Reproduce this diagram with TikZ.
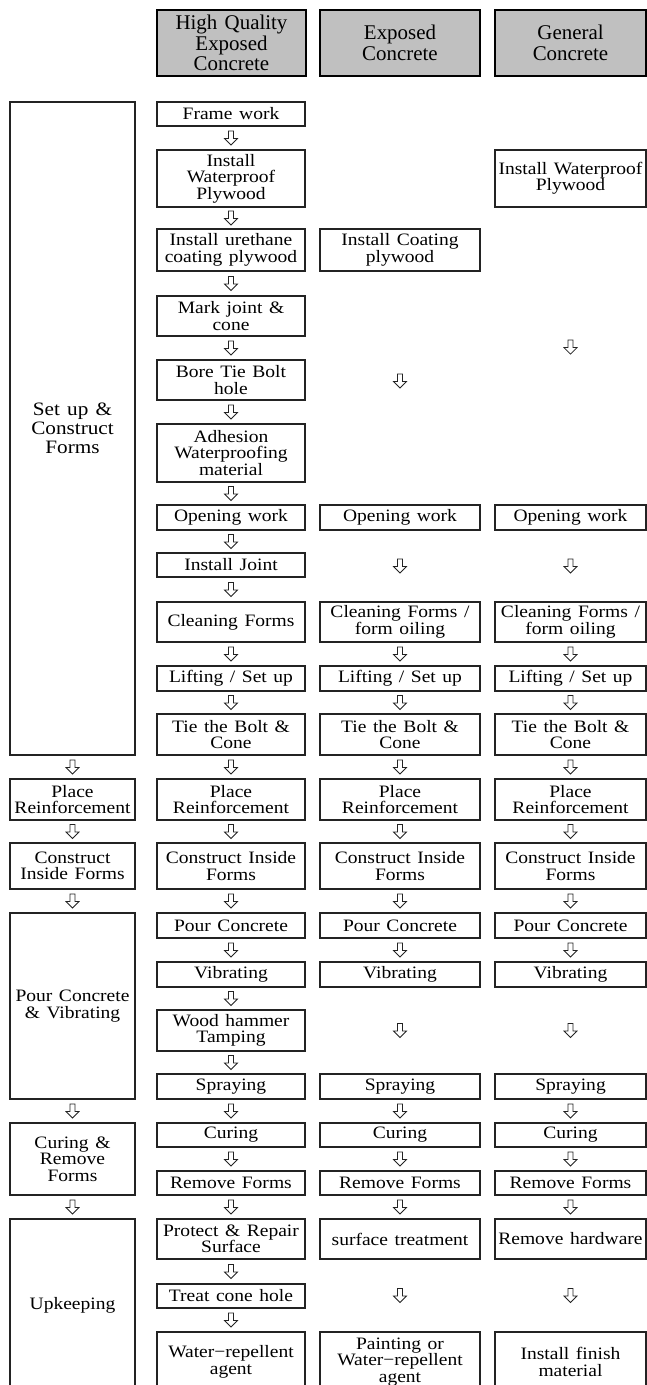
\documentclass[tikz,border=0pt]{standalone}
\usepackage{fontspec}
\setmainfont{Liberation Serif}[WordSpace=1.4]
\newfontfamily\bodyfam{Liberation Serif}[FakeStretch=1.12, WordSpace=1.35]
\usetikzlibrary{calc}
\definecolor{hdr}{RGB}{192,192,192}
\definecolor{ln}{RGB}{35,35,35}
\newcommand\bodyf{\bodyfam\fontsize{17.5}{16.5}\selectfont}
\newcommand\hdrf{\fontsize{21}{20.5}\selectfont}
\newcommand\bigf{\bodyfam\fontsize{19}{19}\selectfont}
\newcommand\bx[7][box]{%
  \pgfmathsetmacro\myW{#5-#3}\pgfmathsetmacro\myH{#6-#4}%
  \pgfmathsetmacro\myX{(#3+#5)/2}\pgfmathsetmacro\myY{(#4+#6)/2}%
  \node[#1, minimum width=\myW bp, minimum height=\myH bp] (#2) at (\myX,\myY) {#7};}
\tikzset{
  box/.style={draw=ln, line width=1.2bp, inner sep=0pt, align=center, font=\bodyf, fill=white},
  bigbox/.style={box, font=\bigf},
  hd/.style={draw=black, line width=1.6bp, inner sep=0pt, align=center, font=\hdrf, fill=hdr},
  arr/.style={draw=ln, line width=0.8bp, line join=miter, fill=white},
  darr/.pic={\path[arr] (-2.5,-7)--(2.5,-7)--(2.5,0.5)--(6.5,0.5)--(0,7)--(-6.5,0.5)--(-2.5,0.5)--cycle;}
}
\begin{document}
\begin{tikzpicture}[x=1bp,y=-1bp]
\clip (0,0) rectangle (647,1385);
\fill[white] (0,0) rectangle (647,1385);
% headers
\bx[hd]{hA}{157}{10}{306}{76}{High Quality\\Exposed\\Concrete}
\bx[hd]{hB}{320}{10}{480}{76}{Exposed\\Concrete}
\bx[hd]{hC}{495}{10}{646}{76}{General\\Concrete}
% left column
\bx[bigbox]{L1}{10}{102}{135}{755}{Set up \&\\Construct\\Forms}
\bx{L2}{10}{779}{135}{820}{Place\\Reinforcement}
\bx{L3}{10}{843}{135}{889}{Construct\\Inside Forms}
\bx{L4}{10}{913}{135}{1099}{Pour Concrete\\\& Vibrating}
\bx{L5}{10}{1123}{135}{1195}{Curing \&\\Remove\\Forms}
\bx{L6}{10}{1219}{135}{1392}{Upkeeping}
% high quality exposed concrete
\bx{a1}{157}{102}{305}{126}{Frame work}
\bx{a2}{157}{150}{305}{207}{Install\\Waterproof\\Plywood}
\bx{a3}{157}{229}{305}{271}{Install urethane\\coating plywood}
\bx{a4}{157}{296}{305}{336}{Mark joint \&\\cone}
\bx{a5}{157}{360}{305}{400}{Bore Tie Bolt\\hole}
\bx{a6}{157}{424}{305}{482}{Adhesion\\Waterproofing\\material}
\bx{a7}{157}{505}{305}{530}{Opening work}
\bx{a8}{157}{553}{305}{577}{Install Joint}
\bx{a9}{157}{602}{305}{642}{Cleaning Forms}
\bx{a10}{157}{666}{305}{691}{Lifting / Set up}
\bx{a11}{157}{714}{305}{755}{Tie the Bolt \&\\Cone}
\bx{a12}{157}{779}{305}{820}{Place\\Reinforcement}
\bx{a13}{157}{843}{305}{889}{Construct Inside\\Forms}
\bx{a14}{157}{913}{305}{938}{Pour Concrete}
\bx{a15}{157}{962}{305}{987}{Vibrating}
\bx{a16}{157}{1010}{305}{1051}{Wood hammer\\Tamping}
\bx{a17}{157}{1074}{305}{1099}{Spraying}
\bx{a18}{157}{1123}{305}{1147}{Curing}
\bx{a19}{157}{1171}{305}{1195}{Remove Forms}
\bx{a20}{157}{1219}{305}{1259}{Protect \& Repair\\Surface}
\bx{a21}{157}{1284}{305}{1308}{Treat cone hole}
\bx{a22}{157}{1332}{305}{1392}{Water−repellent\\agent}
% exposed concrete
\bx{b3}{320}{229}{480}{271}{Install Coating\\plywood}
\bx{b7}{320}{505}{480}{530}{Opening work}
\bx{b9}{320}{602}{480}{642}{Cleaning Forms /\\form oiling}
\bx{b10}{320}{666}{480}{691}{Lifting / Set up}
\bx{b11}{320}{714}{480}{755}{Tie the Bolt \&\\Cone}
\bx{b12}{320}{779}{480}{820}{Place\\Reinforcement}
\bx{b13}{320}{843}{480}{889}{Construct Inside\\Forms}
\bx{b14}{320}{913}{480}{938}{Pour Concrete}
\bx{b15}{320}{962}{480}{987}{Vibrating}
\bx{b17}{320}{1074}{480}{1099}{Spraying}
\bx{b18}{320}{1123}{480}{1147}{Curing}
\bx{b19}{320}{1171}{480}{1195}{Remove Forms}
\bx{b20}{320}{1219}{480}{1259}{surface treatment}
\bx{b22}{320}{1332}{480}{1392}{Painting or\\Water−repellent\\agent}
% general concrete
\bx{c2}{495}{150}{646}{207}{Install Waterproof\\Plywood}
\bx{c7}{495}{505}{646}{530}{Opening work}
\bx{c9}{495}{602}{646}{642}{Cleaning Forms /\\form oiling}
\bx{c10}{495}{666}{646}{691}{Lifting / Set up}
\bx{c11}{495}{714}{646}{755}{Tie the Bolt \&\\Cone}
\bx{c12}{495}{779}{646}{820}{Place\\Reinforcement}
\bx{c13}{495}{843}{646}{889}{Construct Inside\\Forms}
\bx{c14}{495}{913}{646}{938}{Pour Concrete}
\bx{c15}{495}{962}{646}{987}{Vibrating}
\bx{c17}{495}{1074}{646}{1099}{Spraying}
\bx{c18}{495}{1123}{646}{1147}{Curing}
\bx{c19}{495}{1171}{646}{1195}{Remove Forms}
\bx{c20}{495}{1219}{646}{1259}{Remove hardware}
\bx{c22}{495}{1332}{646}{1392}{Install finish\\material}
% arrows
\foreach \p/\q in {L1/L2,L2/L3,L3/L4,L4/L5,L5/L6}
  \pic at ($(\p.south)!0.5!(\q.north)$) {darr};
\foreach \i [evaluate=\i as \j using int(\i+1)] in {1,...,21}
  \pic at ($(a\i.south)!0.5!(a\j.north)$) {darr};
\foreach \p/\q in {b7/b9,b9/b10,b10/b11,b11/b12,b12/b13,b13/b14,b14/b15,b15/b17,b17/b18,b18/b19,b19/b20,b20/b22,
                   c7/c9,c9/c10,c10/c11,c11/c12,c12/c13,c13/c14,c14/c15,c15/c17,c17/c18,c18/c19,c19/c20,c20/c22}
  \pic at ($(\p.south)!0.5!(\q.north)$) {darr};
\pic at ($(b3.south)!0.47!(b7.north)$) {darr};
\pic at ($(c2.south)!0.47!(c7.north)$) {darr};
\end{tikzpicture}
\end{document}
